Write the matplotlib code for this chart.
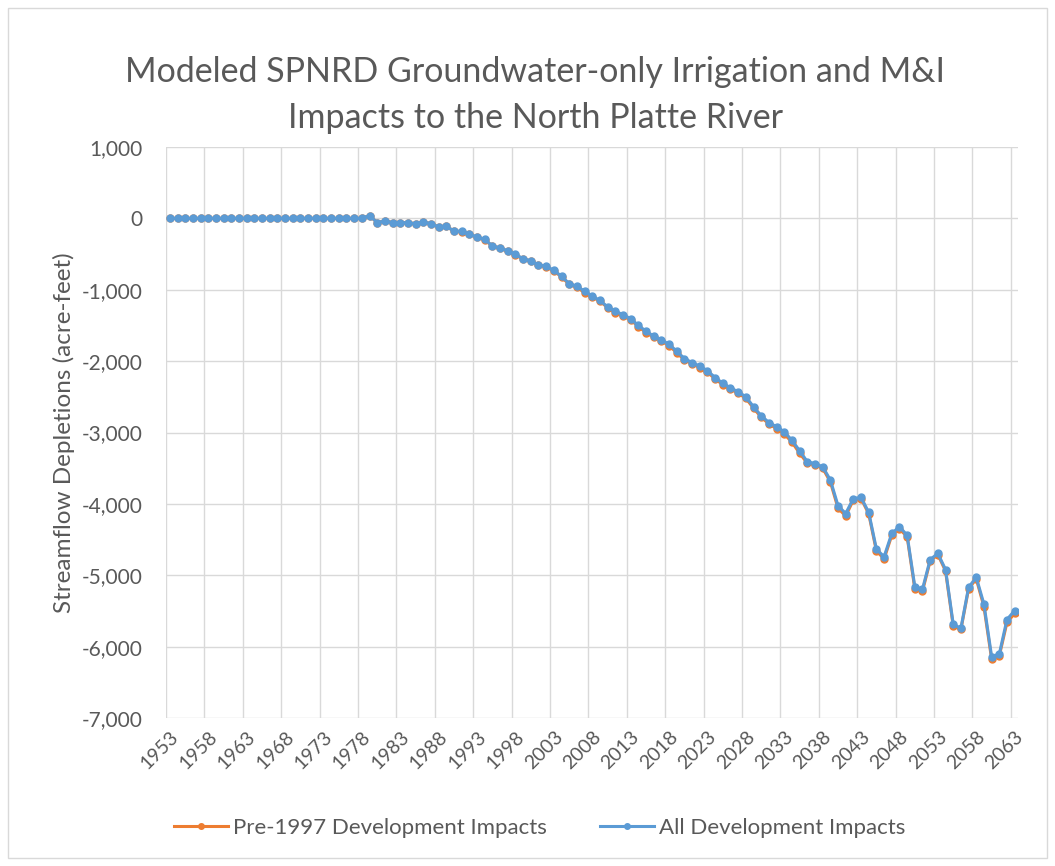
import matplotlib
matplotlib.use('Agg')
from matplotlib import pyplot as plt
from matplotlib.patches import Rectangle
from matplotlib.ticker import FuncFormatter, MultipleLocator
import numpy as np

years = list(range(1953, 2064))

# All development impacts (acre-feet)
all_dev = [0] * 26 + [
    40, -60, -35, -60, -60, -60, -75, -50, -75, -120,
    -110, -180, -180, -225, -260, -295, -385, -415, -455, -505,
    -565, -595, -650, -670, -730, -810, -915, -950, -1020, -1090,
    -1150, -1240, -1300, -1350, -1405, -1500, -1580, -1650, -1700, -1765,
    -1860, -1965, -2020, -2070, -2135, -2230, -2310, -2375, -2430, -2500,
    -2640, -2765, -2860, -2920, -2990, -3110, -3255, -3410, -3435, -3480,
    -3665, -4025, -4135, -3925, -3910, -4120, -4635, -4740, -4415, -4320,
    -4440, -5160, -5195, -4780, -4695, -4920, -5685, -5745, -5170, -5030,
    -5405, -6140, -6105, -5620, -5495]

# Pre-1997 development impacts (acre-feet)
pre_1997 = [0] * 26 + [
    40, -60, -35, -60, -60, -60, -75, -50, -75, -120,
    -110, -180, -185, -225, -265, -300, -390, -420, -460, -510,
    -570, -600, -655, -680, -735, -820, -925, -965, -1040, -1100,
    -1160, -1250, -1320, -1370, -1420, -1515, -1600, -1665, -1715, -1785,
    -1880, -1985, -2035, -2090, -2155, -2250, -2330, -2390, -2450, -2520,
    -2660, -2785, -2880, -2945, -3020, -3135, -3290, -3430, -3450, -3500,
    -3690, -4060, -4170, -3945, -3925, -4140, -4660, -4770, -4440, -4350,
    -4460, -5190, -5220, -4800, -4710, -4940, -5710, -5760, -5190, -5050,
    -5440, -6175, -6130, -5660, -5535]

label_years = list(range(1953, 2064, 5))

txt = '#595959'
grid = '#D9D9D9'
orange = '#ED7D31'
blue = '#5B9BD5'
plt.rcParams['font.family'] = ['Lato', 'DejaVu Sans']

W, H = 1055, 866
fig = plt.figure(figsize=(W / 100, H / 100), dpi=100)
fig.patch.set_facecolor('white')
fig.patches.append(Rectangle((8 / W, 8 / H), 1039 / W, 850 / H, transform=fig.transFigure,
                             fill=False, edgecolor=grid, linewidth=1.0))

ax = fig.add_axes([166 / W, 148 / H, 852.5 / W, 571 / H])

ax.plot(years, pre_1997, color=orange, linewidth=2.2, marker='o', markersize=5,
        label='Pre-1997 Development Impacts', zorder=3)
ax.plot(years, all_dev, color=blue, linewidth=2.2, marker='o', markersize=5,
        label='All Development Impacts', zorder=4)

ax.set_xlim(1952.5, 2063.5)
ax.set_ylim(-7000, 1000)
ax.yaxis.set_major_locator(MultipleLocator(1000))
ax.yaxis.set_major_formatter(FuncFormatter(lambda v, p: f'{int(v):,}'))
ax.grid(axis='y', color=grid, linewidth=1.0)

ax.set_xticks(label_years)
ax.set_xticklabels([str(y) for y in label_years], rotation=45, ha='right',
                   rotation_mode='anchor')
ax.set_xticks(np.arange(1952.5, 2064, 5), minor=True)
ax.grid(axis='x', which='minor', color=grid, linewidth=1.0)
ax.tick_params(axis='x', which='both', length=0, pad=7, labelsize=14, labelcolor=txt)
ax.tick_params(axis='y', length=0, pad=17, labelsize=15, labelcolor=txt)
ax.set_axisbelow(True)
for s in ax.spines.values():
    s.set_visible(False)

ax.set_ylabel('Streamflow Depletions (acre-feet)', fontsize=17.5, color=txt)
ax.yaxis.set_label_coords(-0.107, 0.5)

fig.text(535 / W, 1 - 95 / H,
         'Modeled SPNRD Groundwater-only Irrigation and M&I\nImpacts to the North Platte River',
         ha='center', va='center', fontsize=24.5, color=txt, linespacing=1.5)

fig.legend(loc='center', bbox_to_anchor=(540 / W, 1 - 828 / H), ncol=2, frameon=False,
           fontsize=16, labelcolor=txt, handlelength=2.4, columnspacing=2.4,
           handletextpad=0.25, markerscale=0.8)

plt.savefig('out.png', dpi=100)
